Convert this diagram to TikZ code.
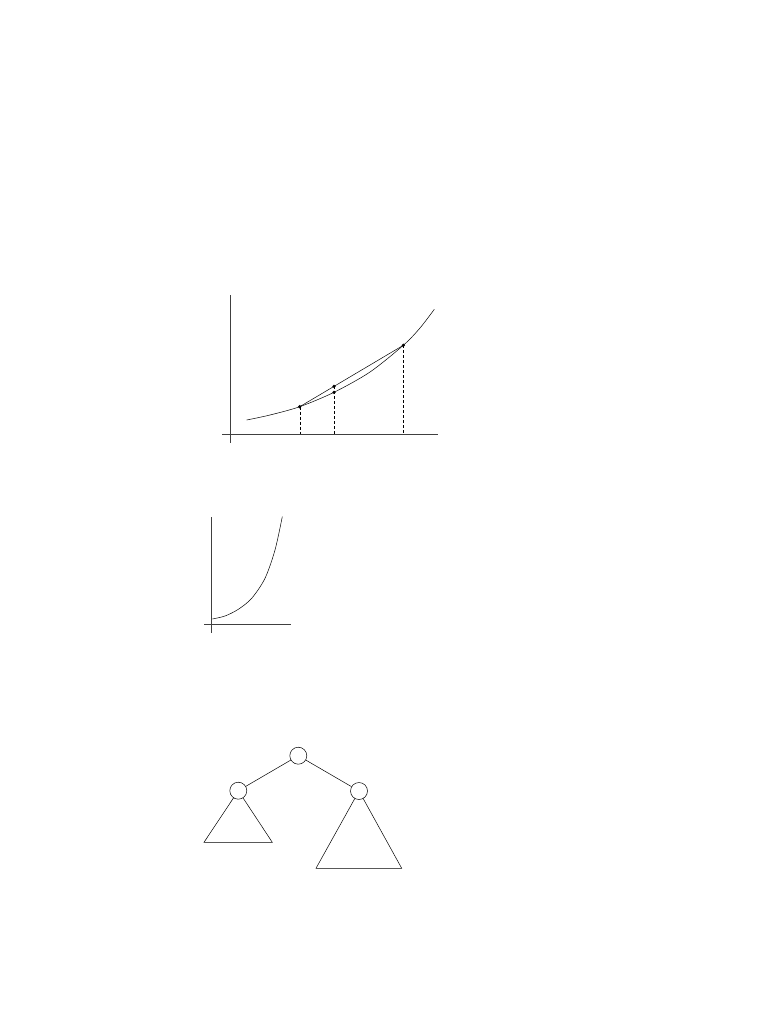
\documentclass[tikz,border=0pt]{standalone}
\begin{document}
\begin{tikzpicture}[x=1pt,y=-1pt,
  axis/.style={line width=0.5pt,black!75},
  curve/.style={line width=0.5pt},
  guide/.style={line width=0.4pt,dash pattern=on 3pt off 2pt},
  dot/.style={circle,fill=black,inner sep=0pt,minimum size=3.6pt},
  tnode/.style={circle,draw,fill=white,minimum size=17pt,inner sep=0pt,line width=0.5pt}]
\useasboundingbox (0,0) rectangle (782,1012);
% --- graph 1
\coordinate (y1a) at (230.7,295);
\coordinate (y1b) at (230.7,443);
\coordinate (x1a) at (222,434);
\coordinate (x1b) at (437.7,434);
\draw[axis] (y1a) -- (y1b);
\draw[axis] (x1a) -- (x1b);
\draw[curve] plot[smooth] coordinates {(246.7,420) (270,415) (299.7,406.7) (334,392.3) (370,372) (403.3,345.3) (420,328) (434.3,309.3)};
\coordinate (Ac) at (299.7,406.7);
\coordinate (Bc) at (403.3,345.3);
\coordinate (Mc) at (334,386.4);
\coordinate (Cc) at (334,392.3);
\coordinate (Ab) at (299.7,434);
\coordinate (Mb) at (334,434);
\coordinate (Bb) at (403.3,434);
\draw[curve] (Ac) -- (Bc);
\draw[guide] (Ac) -- (Ab);
\draw[guide] (Mc) -- (Mb);
\draw[guide] (Bc) -- (Bb);
\node[dot] (A) at (Ac) {};
\node[dot] (B) at (Bc) {};
\node[dot] (M) at (Mc) {};
\node[dot] (C) at (Cc) {};
% --- graph 2
\coordinate (y2a) at (211.7,517.3);
\coordinate (y2b) at (211.7,633.3);
\coordinate (x2a) at (204.3,624.3);
\coordinate (x2b) at (290.7,624.3);
\draw[axis] (y2a) -- (y2b);
\draw[axis] (x2a) -- (x2b);
\draw[curve] plot[smooth] coordinates {(212.3,619) (225,616) (238.3,609.3) (251.7,598.3) (265,578.3) (275,550) (282.3,516.7)};
% --- tree
\coordinate (L1) at (204,842.3);
\coordinate (L2) at (272.3,842.3);
\coordinate (R1) at (316,868.3);
\coordinate (R2) at (401.7,868.3);
\coordinate (lc) at (238.3,790.7);
\coordinate (rc) at (359,791);
\draw[curve] (lc) -- (L1) -- (L2) -- cycle;
\draw[curve] (rc) -- (R1) -- (R2) -- cycle;
\node[tnode] (root) at (298.3,755.7) {};
\node[tnode] (left) at (lc) {};
\node[tnode] (right) at (rc) {};
\draw[curve] (root) -- (left);
\draw[curve] (root) -- (right);
\end{tikzpicture}
\end{document}
